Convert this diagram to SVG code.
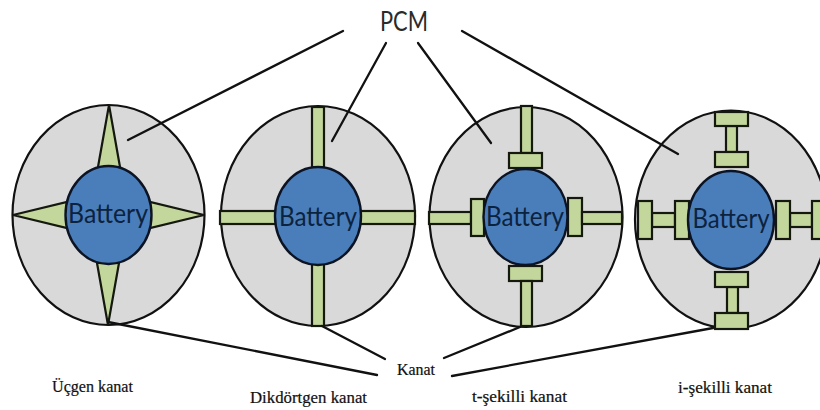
<svg xmlns="http://www.w3.org/2000/svg" width="820" height="410" viewBox="0 0 820 410">
<style>
.body{fill:#d9d9d9;stroke:#111;stroke-width:2.2}
.bat{fill:#4a7ebb;stroke:#0c1424;stroke-width:2.4}
.fin{fill:#c3d69b;stroke:#14180e;stroke-width:2.2}
.btxt{font-family:Lato,"Open Sans",sans-serif;font-size:26px;fill:#0c2340;text-anchor:middle}
.cap{font-family:"Liberation Serif",serif;font-size:16px;fill:#111;text-anchor:middle;stroke:#111;stroke-width:.2}
.pcm{font-family:Lato,"Open Sans",sans-serif;font-size:27px;fill:#2a2a2a;text-anchor:middle}
.ln{stroke:#111;stroke-width:2.3;fill:none;stroke-linecap:round}
</style>
<rect width="820" height="410" fill="#fff"/>
<g id="node-triangle">
<ellipse class="body" cx="108.5" cy="215" rx="96" ry="110"/>
<polygon class="fin" points="109,105 120,167 98,167"/>
<polygon class="fin" points="108,325 97,263 119,263"/>
<polygon class="fin" points="13,215 67,202 67,228"/>
<polygon class="fin" points="204,215 150,202 150,228"/>
<ellipse class="bat" cx="108.5" cy="215" rx="43" ry="49"/>
<text class="btxt" x="108" y="223" textLength="80" lengthAdjust="spacingAndGlyphs">Battery</text>
</g>
<g id="node-rectangle">
<ellipse class="body" cx="318" cy="216" rx="97" ry="110"/>
<rect class="fin" x="312" y="107" width="12" height="62"/>
<rect class="fin" x="312" y="263" width="12" height="63"/>
<rect class="fin" x="220" y="211" width="57" height="13"/>
<rect class="fin" x="360" y="211" width="55" height="13"/>
<ellipse class="bat" cx="318" cy="216" rx="43" ry="49"/>
<text class="btxt" x="318" y="226" textLength="78" lengthAdjust="spacingAndGlyphs">Battery</text>
</g>
<g id="node-t">
<ellipse class="body" cx="526" cy="217" rx="96.5" ry="110"/>
<rect class="fin" x="521" y="106" width="11" height="47"/>
<rect class="fin" x="509" y="153" width="33" height="15"/>
<rect class="fin" x="509" y="266" width="33" height="15"/>
<rect class="fin" x="521" y="281" width="11" height="45"/>
<rect class="fin" x="429" y="212" width="42" height="12"/>
<rect class="fin" x="471" y="199" width="13" height="37"/>
<rect class="fin" x="568" y="198" width="14" height="38"/>
<rect class="fin" x="582" y="212" width="40" height="12"/>
<ellipse class="bat" cx="525.5" cy="217" rx="42" ry="48"/>
<text class="btxt" x="525" y="226" textLength="78" lengthAdjust="spacingAndGlyphs">Battery</text>
</g>
<g id="node-i">
<ellipse class="body" cx="731" cy="219.5" rx="96" ry="109"/>
<rect class="fin" x="726" y="126" width="11" height="26"/>
<rect class="fin" x="715" y="112" width="33" height="14"/>
<rect class="fin" x="715" y="152" width="33" height="15"/>
<rect class="fin" x="727" y="287" width="11" height="26"/>
<rect class="fin" x="715" y="272" width="33" height="15"/>
<rect class="fin" x="715" y="313" width="33" height="16"/>
<rect class="fin" x="652" y="213" width="23" height="14"/>
<rect class="fin" x="638" y="201" width="14" height="38"/>
<rect class="fin" x="675" y="201" width="14" height="38"/>
<rect class="fin" x="790" y="213" width="22" height="14"/>
<rect class="fin" x="776" y="201" width="14" height="38"/>
<rect class="fin" x="812" y="201" width="14" height="38"/>
<ellipse class="bat" cx="731" cy="220" rx="43" ry="49"/>
<text class="btxt" x="731" y="228" textLength="77" lengthAdjust="spacingAndGlyphs">Battery</text>
</g>
<g id="connectors">
<line class="ln" x1="343" y1="31" x2="128" y2="140"/>
<line class="ln" x1="386" y1="43" x2="332" y2="141"/>
<line class="ln" x1="418" y1="43" x2="491" y2="143"/>
<line class="ln" x1="462" y1="31" x2="678" y2="154"/>
<line class="ln" x1="108" y1="322" x2="377" y2="375"/>
<line class="ln" x1="322" y1="326" x2="385" y2="359"/>
<line class="ln" x1="520" y1="327" x2="444" y2="358"/>
<line class="ln" x1="713" y1="328" x2="452" y2="376"/>
</g>
<g id="labels">
<text class="pcm" x="404" y="31" textLength="48" lengthAdjust="spacingAndGlyphs">PCM</text>
<text class="cap" x="92.5" y="392" textLength="81" lengthAdjust="spacingAndGlyphs">Üçgen kanat</text>
<text class="cap" x="308.5" y="403" textLength="117" lengthAdjust="spacingAndGlyphs">Dikdörtgen kanat</text>
<text class="cap" x="416" y="375" textLength="38" lengthAdjust="spacingAndGlyphs">Kanat</text>
<text class="cap" x="519.5" y="402" textLength="95" lengthAdjust="spacingAndGlyphs">t-şekilli kanat</text>
<text class="cap" x="725" y="393" textLength="94" lengthAdjust="spacingAndGlyphs">i-şekilli kanat</text>
</g>
</svg>
